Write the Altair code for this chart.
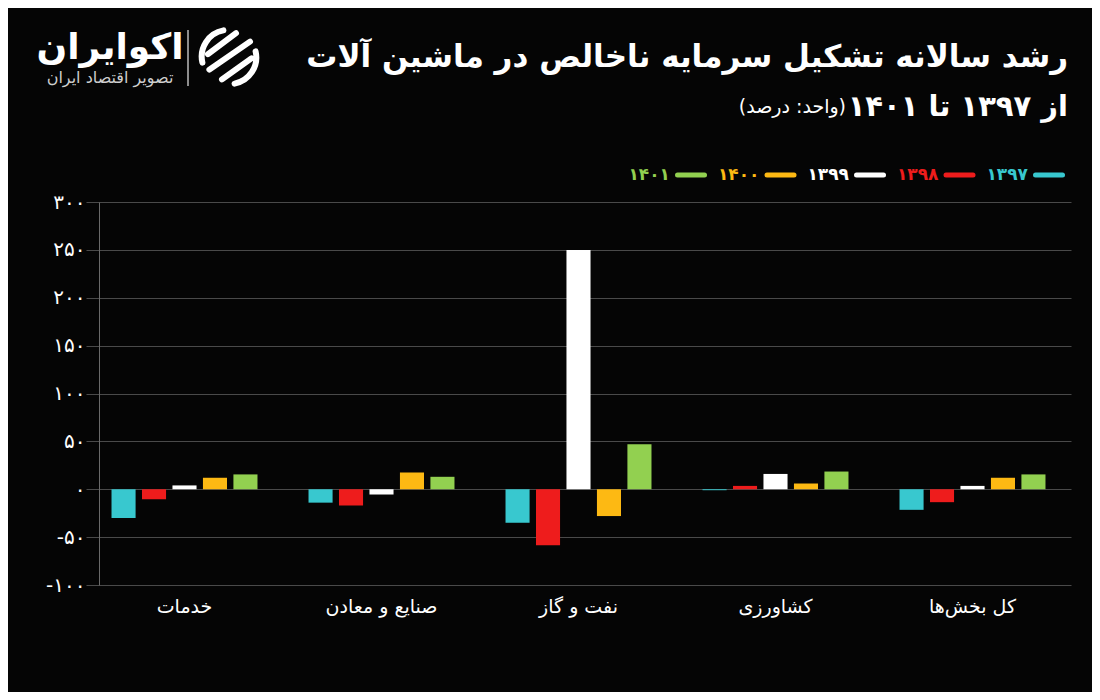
import altair as alt
import pandas as pd

FONT = "DejaVu Sans"

CATEGORIES = ["خدمات", "صنایع و معادن", "نفت و گاز", "کشاورزی", "کل بخش‌ها"]
YEARS = ["۱۳۹۷", "۱۳۹۸", "۱۳۹۹", "۱۴۰۰", "۱۴۰۱"]
COLORS = ["#38c8cf", "#ee1c1c", "#ffffff", "#fdb913", "#92d050"]

V1397 = [-30, -14, -35, -1, -21.5]
V1398 = [-10.5, -17, -58.5, 3.5, -13.5]
V1399 = [4, -5.5, 250, 16, 3.5]
V1400 = [12, 17.5, -28, 6, 12]
V1401 = [15.5, 13, 47, 18.5, 15.5]
SERIES = [V1397, V1398, V1399, V1400, V1401]

Y_TICKS = [-100, -50, 0, 50, 100, 150, 200, 250, 300]
Y_LABELS = ["-۱۰۰", "-۵۰", "۰", "۵۰", "۱۰۰", "۱۵۰", "۲۰۰", "۲۵۰", "۳۰۰"]

TITLE1 = "رشد سالانه تشکیل سرمایه ناخالص در ماشین آلات"
TITLE2 = "از ۱۳۹۷ تا ۱۴۰۱"
UNIT = "\u200f(واحد: درصد)\u200f"
LOGO = "اکوایران"
LOGO_SUB = "تصویر اقتصاد ایران"

rows = []
for y, vals in zip(YEARS, SERIES):
    for c, v in zip(CATEGORIES, vals):
        rows.append({"cat": c, "year": y, "val": v})
df = pd.DataFrame(rows)

label_expr = "".join(f"datum.value == {v} ? '{l}' : " for v, l in zip(Y_TICKS, Y_LABELS)) + "''"

color = alt.Color("year:N", sort=YEARS, scale=alt.Scale(domain=YEARS, range=COLORS), legend=None)

bars = alt.Chart(df).mark_bar().encode(
    x=alt.X("cat:N", sort=CATEGORIES,
            scale=alt.Scale(range=[-13, 972], paddingInner=0.259, paddingOuter=0.1295),
            axis=alt.Axis(title=None, labelAngle=0, domain=False, ticks=False, labelColor="white",
                          labelFontSize=19, labelPadding=12, labelFont=FONT)),
    xOffset=alt.XOffset("year:N", sort=YEARS, scale=alt.Scale(paddingInner=0.21, paddingOuter=0)),
    y=alt.Y("val:Q", scale=alt.Scale(domain=[-100, 300], nice=False),
            axis=alt.Axis(title=None, values=Y_TICKS, labelExpr=label_expr, grid=True,
                          gridColor="#4a4a4a", gridWidth=1, domain=True, domainColor="#6a6a6a",
                          ticks=False, labelPadding=14, labelColor="white", labelFontSize=20,
                          labelFont=FONT)),
    color=color,
)

leg_df = pd.DataFrame({"year": YEARS})
leg_x = alt.X("year:N", sort=YEARS, scale=alt.Scale(type="point", domain=YEARS, range=[950, 592], padding=0), axis=None)
leg_dash = alt.Chart(leg_df).mark_point(shape="M-1,0L1,0", filled=False, strokeWidth=5,
                                        strokeCap="round", size=729, opacity=1).encode(
    x=leg_x, y=alt.value(-27), color=color)
leg_text = alt.Chart(leg_df).mark_text(align="right", baseline="middle", dx=-21, fontSize=17,
                                       fontWeight="bold", font=FONT).encode(
    x=leg_x, y=alt.value(-27), color=color, text="year:N")

one = pd.DataFrame({"a": [0]})


def txt(s, x, y, size, weight="normal", align="right", col="white"):
    return alt.Chart(one).mark_text(align=align, baseline="middle", fontSize=size, fontWeight=weight,
                                    font=FONT, color=col).encode(
        x=alt.value(x), y=alt.value(y), text=alt.value(s))


t1 = txt(TITLE1, 969, -144, 31, "bold")
t2 = txt(TITLE2, 969, -95, 29, "bold")
t3 = txt(UNIT, 747, -95, 19)
l1 = txt(LOGO, 11, -154, 36, "bold", "center")
l2 = txt(LOGO_SUB, 11, -124, 16, "normal", "center", "#cfcfcf")
sep = alt.Chart(one).mark_rule(color="#bbbbbb", strokeWidth=1.5).encode(
    x=alt.value(89), y=alt.value(-172), y2=alt.value(-116))
icon = alt.Chart(one).mark_point(
    shape="M-0.2,-0.95A0.95,0.95 0 0 0 -0.95,0.2 M0.2,0.95A0.95,0.95 0 0 0 0.95,-0.2 "
          "M-0.75,-0.1L0.25,-0.85 M-0.7,0.45L0.75,-0.55 M-0.25,0.8L0.8,0.05",
    filled=False, strokeWidth=6, strokeCap="round", size=3136, opacity=1, color="white").encode(
    x=alt.value(130), y=alt.value(-145))

chart = alt.layer(bars, leg_dash, leg_text, t1, t2, t3, l1, l2, sep, icon).resolve_scale(
    x="independent").properties(
    width=963, height=383,
    padding={"left": 91, "top": 194, "right": 30, "bottom": 107},
    autosize=alt.AutoSizeParams(type="none"),
    background="#050505",
).configure_view(stroke=None)

chart.save("out.html", embed_options={"renderer": "svg", "actions": False})
